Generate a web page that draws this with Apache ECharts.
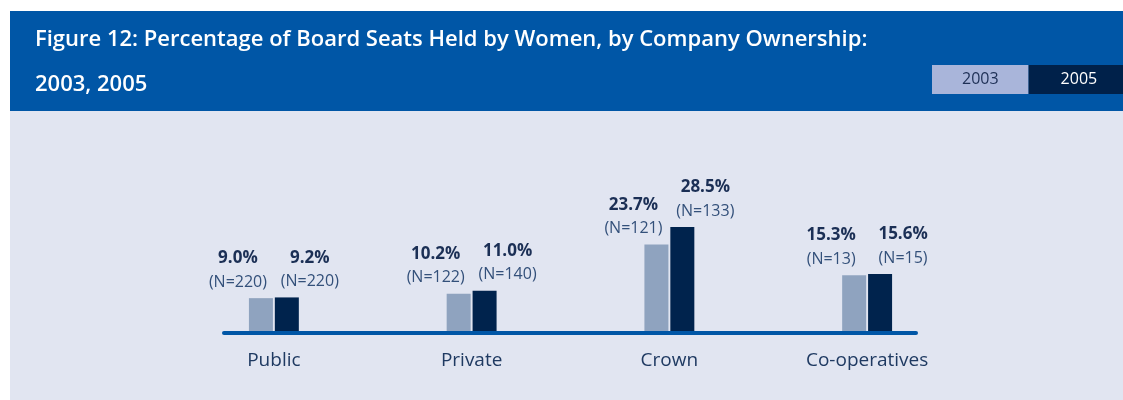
<!DOCTYPE html>
<html>
<head>
<meta charset="utf-8">
<script src="https://cdn.jsdelivr.net/npm/echarts@6/dist/echarts.min.js"></script>
<style>
  html, body { margin: 0; padding: 0; background: #fff; }
  #chart { width: 1123px; height: 400px; }
</style>
</head>
<body>
<div id="chart"></div>
<script>
// data
const categories = ['Public', 'Private', 'Crown', 'Co-operatives']
const years = ['2003', '2005']
const pct2003 = [9.0, 10.2, 23.7, 15.3]
const pct2005 = [9.2, 11.0, 28.5, 15.6]
const n2003 = [220, 122, 121, 13]
const n2005 = [220, 140, 133, 15]

const FONT = '"Open Sans", sans-serif'
const HEADER_BLUE = '#0056a6'
const PANEL_BG = '#e1e5f1'
const COLOR_2003 = '#8fa3bf'
const COLOR_2005 = '#00234d'

// two-line label: bold percentage, then (N=..)
function makeLabel (counts, dx) {
  return {
    show: true,
    position: 'top',
    distance: 5,
    offset: [dx, 0],
    align: 'center',
    formatter: p => '{p|' + p.value.toFixed(1) + '%}\n{n|(N=' + counts[p.dataIndex] + ')}',
    rich: {
      p: { fontFamily: FONT, fontSize: 17, fontWeight: 'bold', color: '#1b2f55', lineHeight: 25, align: 'center' },
      n: { fontFamily: FONT, fontSize: 16, color: '#33507a', lineHeight: 22, align: 'center' }
    }
  }
}

const chart = echarts.init(document.getElementById('chart'), null, { renderer: 'canvas' })

const option = {
  backgroundColor: '#ffffff',
  animation: false,
  graphic: [
    { type: 'rect', z: -10, silent: true, shape: { x: 10, y: 11, width: 1113, height: 100 }, style: { fill: HEADER_BLUE } },
    { type: 'rect', z: -10, silent: true, shape: { x: 10, y: 111, width: 1113, height: 289 }, style: { fill: PANEL_BG } }
  ],
  title: {
    text: 'Figure 12: Percentage of Board Seats Held by Women, by Company Ownership:\n2003, 2005',
    left: 35,
    top: 17,
    padding: 0,
    textStyle: { fontFamily: FONT, fontSize: 22, fontWeight: 600, color: '#ffffff', lineHeight: 45 }
  },
  legend: {
    left: 927,
    top: 65,
    width: 300,
    orient: 'horizontal',
    padding: 0,
    itemGap: -5,
    itemWidth: 0,
    itemHeight: 0,
    icon: 'none',
    selectedMode: false,
    data: [
      { name: years[0], textStyle: { color: '#1d2f55', backgroundColor: '#a9b5da', fontFamily: FONT, fontSize: 16, lineHeight: 17, padding: [6, 30, 6, 30] } },
      { name: years[1], textStyle: { color: '#ffffff', backgroundColor: '#00214a', fontFamily: FONT, fontSize: 16, lineHeight: 17, padding: [6, 32, 6, 32] } }
    ]
  },
  grid: [
    { left: 175, right: 157, top: 185, bottom: 69 },
    { left: 224, right: 207, top: 185, bottom: 67 }
  ],
  xAxis: [
    {
      type: 'category',
      gridIndex: 0,
      data: categories,
      axisLine: { show: false },
      axisTick: { show: false },
      axisLabel: { fontFamily: FONT, fontSize: 19, color: '#1f3a62', margin: 20 }
    },
    {
      type: 'value',
      gridIndex: 1,
      min: 0,
      max: 1,
      axisLine: { show: true, lineStyle: { color: HEADER_BLUE, width: 4 } },
      axisTick: { show: false },
      axisLabel: { show: false },
      splitLine: { show: false }
    }
  ],
  yAxis: [
    { type: 'value', gridIndex: 0, min: 0, max: 40, show: false, splitLine: { show: false } },
    { type: 'value', gridIndex: 1, min: 0, max: 1, show: false, splitLine: { show: false } }
  ],
  series: [
    {
      name: years[0],
      type: 'bar',
      xAxisIndex: 0,
      yAxisIndex: 0,
      barWidth: 24,
      barGap: '8%',
      itemStyle: { color: COLOR_2003 },
      label: makeLabel(n2003, -23),
      data: pct2003
    },
    {
      name: years[1],
      type: 'bar',
      xAxisIndex: 0,
      yAxisIndex: 0,
      barWidth: 24,
      barGap: '8%',
      itemStyle: { color: COLOR_2005 },
      label: makeLabel(n2005, 23),
      data: pct2005
    }
  ]
}

chart.setOption(option)
</script>
</body>
</html>
